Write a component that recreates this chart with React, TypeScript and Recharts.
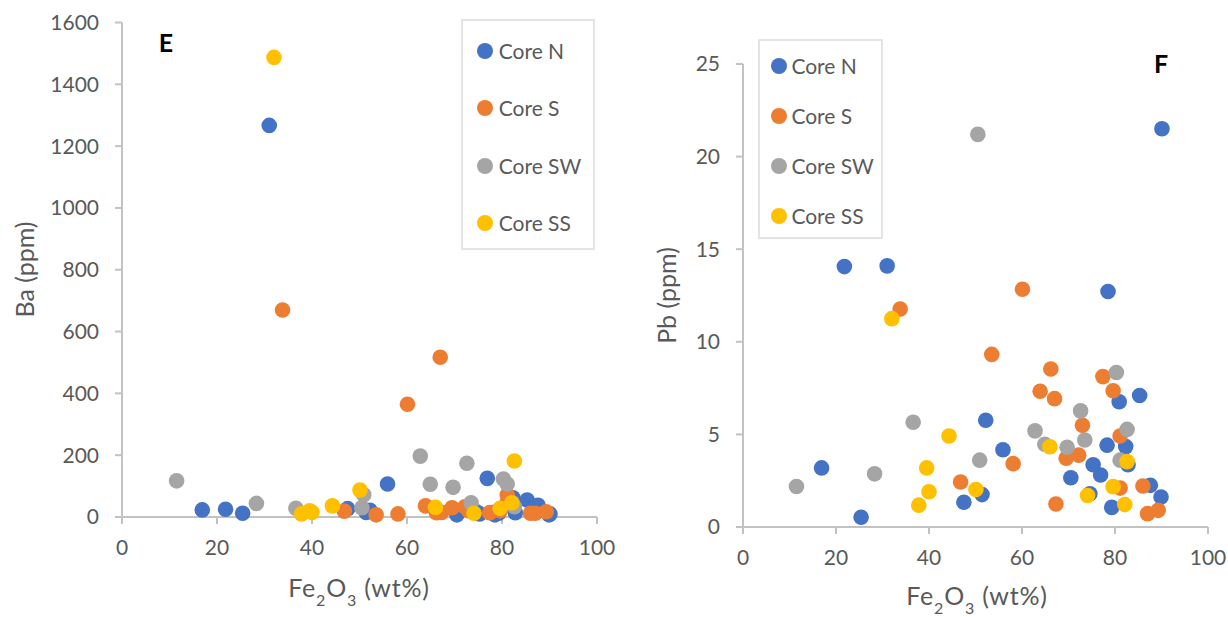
import { Legend, Scatter, ScatterChart, XAxis, YAxis } from "recharts";

// Fe2O3 (wt%), Ba (ppm) and Pb (ppm) per core, one entry per sample
const FE_N = [16.9, 21.8, 25.4, 31.0, 47.5, 51.4, 52.2, 55.9, 70.5, 74.6, 75.3, 76.9, 78.3, 78.5, 79.3, 80.9, 82.3, 82.8, 85.3, 87.6, 89.9, 90.1];
const BA_N = [23, 25, 12, 1267, 27, 15, 22, 107, 7, 17, 10, 125, 15, 7, 12, 40, 62, 14, 55, 38, 7, 10];
const PB_N = [3.19, 14.06, 0.53, 14.1, 1.34, 1.75, 5.76, 4.17, 2.66, 1.79, 3.36, 2.81, 4.42, 12.72, 1.06, 6.76, 4.34, 3.36, 7.1, 2.25, 1.62, 21.5];

const FE_S = [33.8, 46.8, 53.5, 58.1, 60.1, 63.9, 66.2, 67.0, 67.3, 69.5, 72.2, 73.0, 77.4, 79.6, 81.1, 81.1, 86.0, 87.0, 89.3];
const BA_S = [670, 19, 7, 10, 365, 36, 14, 517, 15, 30, 33, 20, 14, 20, 71, 45, 12, 12, 17];
const PB_S = [11.77, 2.43, 9.32, 3.42, 12.84, 7.33, 8.53, 6.93, 1.24, 3.71, 3.88, 5.49, 8.12, 7.36, 4.91, 2.1, 2.21, 0.72, 0.9];

const FE_SW = [11.5, 28.3, 36.6, 50.5, 50.9, 62.8, 64.9, 69.7, 72.6, 73.5, 80.3, 81.1, 82.6];
const BA_SW = [117, 44, 28, 30, 72, 197, 106, 96, 174, 46, 123, 107, 33];
const PB_SW = [2.19, 2.87, 5.66, 21.2, 3.61, 5.19, 4.47, 4.31, 6.27, 4.7, 8.34, 3.61, 5.27];

const FE_SS = [32.0, 37.8, 39.5, 40.0, 44.3, 50.1, 66.0, 74.1, 79.6, 82.1, 82.6];
const BA_SS = [1487, 10, 20, 15, 36, 87, 31, 12, 28, 46, 181];
const PB_SS = [11.25, 1.18, 3.19, 1.9, 4.91, 2.02, 4.33, 1.7, 2.18, 1.21, 3.53];

const X_TICKS = [0, 20, 40, 60, 80, 100];
const BA_TICKS = [0, 200, 400, 600, 800, 1000, 1200, 1400, 1600];
const PB_TICKS = [0, 5, 10, 15, 20, 25];

const CORES = [
  { name: "Core N", color: "#4472C4", fe: FE_N, ba: BA_N, pb: PB_N },
  { name: "Core S", color: "#ED7D31", fe: FE_S, ba: BA_S, pb: PB_S },
  { name: "Core SW", color: "#A5A5A5", fe: FE_SW, ba: BA_SW, pb: PB_SW },
  { name: "Core SS", color: "#FFC000", fe: FE_SS, ba: BA_SS, pb: PB_SS },
];
const ORDER = CORES.map((c) => c.name);

const FONT = "Lato, 'Open Sans', sans-serif";
const AXIS = "#c2c2c2";
const TEXT = "#595959";

function Dot(props: { cx?: number; cy?: number; fill?: string }) {
  const { cx = 0, cy = 0, fill } = props;
  return <circle cx={cx} cy={cy} r={7.8} fill={fill} />;
}

function makeLegend(box: { w: number; h: number; first: number; gap: number; dotX: number; textX: number }) {
  return function LegendBox(props: { payload?: { value: string; color: string }[] }) {
    // keep series order, not alphabetical
    const items = [...(props.payload ?? [])].sort(
      (a, b) => ORDER.indexOf(a.value) - ORDER.indexOf(b.value)
    );
    return (
      <div
        style={{
          position: "relative",
          boxSizing: "border-box",
          width: box.w,
          height: box.h,
          border: "2px solid #e4e4e4",
          background: "#fff",
          fontFamily: FONT,
        }}
      >
        {items.map((it, i) => (
          <div key={it.value}>
            <span
              style={{
                position: "absolute",
                left: box.dotX - 8,
                top: box.first + i * box.gap - 8,
                width: 16,
                height: 16,
                borderRadius: "50%",
                background: it.color,
              }}
            />
            <span
              style={{
                position: "absolute",
                left: box.textX,
                top: box.first + i * box.gap - 13,
                fontSize: 21,
                lineHeight: "26px",
                color: TEXT,
                whiteSpace: "nowrap",
              }}
            >
              {it.value}
            </span>
          </div>
        ))}
      </div>
    );
  };
}

function FeTitle({ x, y }: { x: number; y: number }) {
  return (
    <text x={x} y={y} textAnchor="middle" fill={TEXT} fontSize={25} letterSpacing={0.8} fontFamily={FONT}>
      <tspan>Fe</tspan>
      <tspan dy={9} fontSize={16}>2</tspan>
      <tspan dy={-9}>O</tspan>
      <tspan dy={9} fontSize={16}>3</tspan>
      <tspan dy={-9}> (wt%)</tspan>
    </text>
  );
}

function YTitle({ x, y, text }: { x: number; y: number; text: string }) {
  return (
    <text
      x={x}
      y={y}
      transform={`rotate(-90, ${x}, ${y})`}
      textAnchor="middle"
      fill={TEXT}
      fontSize={25}
      fontFamily={FONT}
    >
      {text}
    </text>
  );
}

const tick = { fill: TEXT, fontSize: 21, fontFamily: FONT };

const LeftLegend = makeLegend({ w: 134, h: 231, first: 29.5, gap: 57.6, dotX: 22.6, textX: 36 });
const RightLegend = makeLegend({ w: 125, h: 200, first: 24.7, gap: 49.9, dotX: 18.2, textX: 31 });

export default function App() {
  return (
    <div style={{ position: "absolute", left: 0, top: 0, width: 1228, height: 617, background: "#fff", fontFamily: FONT }}>
      <div style={{ position: "absolute", left: 0, top: 0 }}>
        <ScatterChart width={620} height={617} margin={{ top: 22.5, right: 23, bottom: 40, left: 0 }}>
          <XAxis
            type="number"
            dataKey="fe"
            domain={[0, 100]}
            ticks={X_TICKS}
            height={60}
            stroke={AXIS}
            strokeWidth={2}
            tickSize={7}
            tickMargin={16}
            tick={tick}
          />
          <YAxis
            type="number"
            dataKey="value"
            domain={[0, 1600]}
            ticks={BA_TICKS}
            width={122}
            stroke={AXIS}
            strokeWidth={2}
            tickSize={7}
            tickMargin={16}
            tick={tick}
          />
          {CORES.map((c) => (
            <Scatter
              key={c.name}
              name={c.name}
              data={c.fe.map((fe, i) => ({ fe, value: c.ba[i] }))}
              fill={c.color}
              shape={<Dot />}
              isAnimationActive={false}
            />
          ))}
          <Legend
            layout="vertical"
            align="center"
            verticalAlign="middle"
            width={134}
            height={231}
            wrapperStyle={{ left: 460.7, top: 19 }}
            content={<LeftLegend />}
          />
          <FeTitle x={359} y={596.7} />
          <YTitle x={34} y={269.5} text="Ba (ppm)" />
          <text x={166} y={51.7} textAnchor="middle" fontSize={25} fontWeight={700} fontFamily={FONT} fill="#000">
            E
          </text>
        </ScatterChart>
      </div>
      <div style={{ position: "absolute", left: 620, top: 0 }}>
        <ScatterChart width={608} height={617} margin={{ top: 64, right: 20, bottom: 30, left: 0 }}>
          <XAxis
            type="number"
            dataKey="fe"
            domain={[0, 100]}
            ticks={X_TICKS}
            height={60}
            stroke={AXIS}
            strokeWidth={2}
            tickSize={7}
            tickMargin={16}
            tick={tick}
          />
          <YAxis
            type="number"
            dataKey="value"
            domain={[0, 25]}
            ticks={PB_TICKS}
            width={123}
            stroke={AXIS}
            strokeWidth={2}
            tickSize={7}
            tickMargin={16}
            tick={tick}
          />
          {CORES.map((c) => (
            <Scatter
              key={c.name}
              name={c.name}
              data={c.fe.map((fe, i) => ({ fe, value: c.pb[i] }))}
              fill={c.color}
              shape={<Dot />}
              isAnimationActive={false}
            />
          ))}
          <Legend
            layout="vertical"
            align="center"
            verticalAlign="middle"
            width={125}
            height={200}
            wrapperStyle={{ left: 138.4, top: 39.4 }}
            content={<RightLegend />}
          />
          <FeTitle x={357} y={605} />
          <YTitle x={56} y={295.5} text="Pb (ppm)" />
          <text x={541} y={72.8} textAnchor="middle" fontSize={25} fontWeight={700} fontFamily={FONT} fill="#000">
            F
          </text>
        </ScatterChart>
      </div>
    </div>
  );
}
